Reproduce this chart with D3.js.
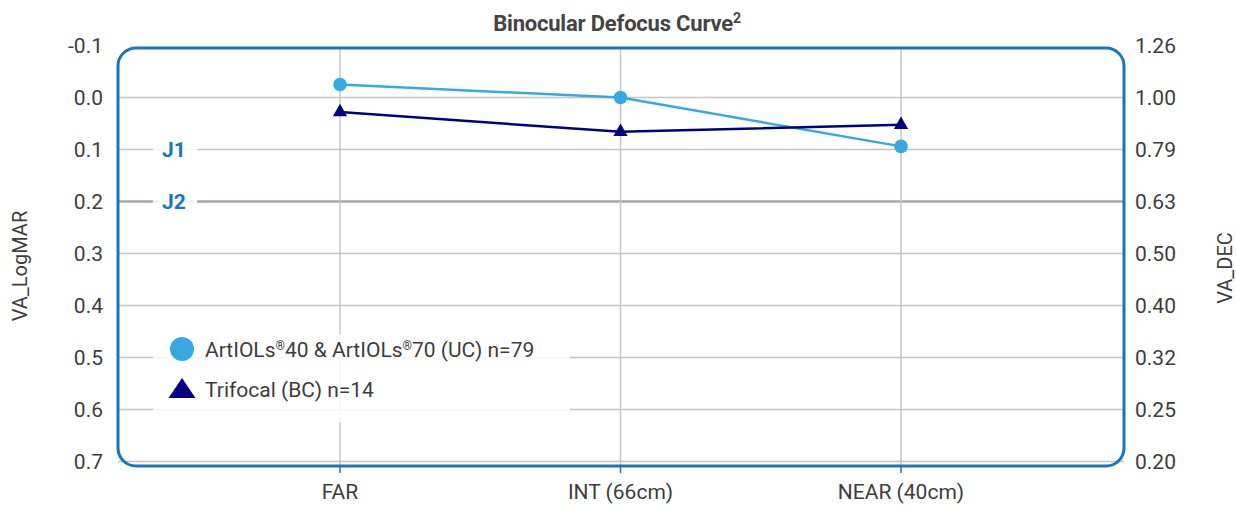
<!DOCTYPE html>
<html><head><meta charset="utf-8">
<script src="https://cdn.jsdelivr.net/npm/d3@7"></script>
<style>body{margin:0;background:#fff}svg{display:block;font-family:Roboto,"Noto Sans",sans-serif}</style>
</head><body><svg id="c" width="1236" height="505"></svg>
<script>
const categories = ["FAR", "INT (66cm)", "NEAR (40cm)"];
const artiolsValues = [-0.025, 0.0, 0.094];
const trifocalValues = [0.028, 0.066, 0.0525];
const leftTicks = [-0.1, 0.0, 0.1, 0.2, 0.3, 0.4, 0.5, 0.6, 0.7];
const leftTickLabels = ["-0.1","0.0","0.1","0.2","0.3","0.4","0.5","0.6","0.7"];
const rightTickLabels = ["1.26","1.00","0.79","0.63","0.50","0.40","0.32","0.25","0.20"];
const jLines = [{v:0.1,label:"J1"},{v:0.2,label:"J2"}];
const seriesNames = [["ArtIOLs","®","40 & ArtIOLs","®","70 (UC) n=79"], ["Trifocal (BC) n=14"]];

const svg = d3.select("#c");
const left = 118, right = 1124;
const y = d3.scaleLinear().domain([-0.1, 0.7]).range([45.5, 461.5]);
const x = d3.scalePoint().domain(categories).range([340, 901]);
const boxTop = 48, boxBottom = 466;
const blue = "#1a75bb", light = "#36a9e1", navy = "#000080", txt = "#3d3d3d";

// horizontal grid
svg.append("g").selectAll("line").data(leftTicks.slice(1)).join("line")
  .attr("x1", left).attr("x2", right).attr("y1", d=>y(d)).attr("y2", d=>y(d))
  .attr("stroke", d=> Math.abs(d-0.2)<1e-9 ? "#a9a5a3" : "#c8c4c4")
  .attr("stroke-width", d=> Math.abs(d-0.2)<1e-9 ? 2.5 : 1.5);
// vertical grid
svg.append("g").selectAll("line").data(categories).join("line")
  .attr("x1", d=>x(d)).attr("x2", d=>x(d)).attr("y1", boxTop).attr("y2", boxBottom)
  .attr("stroke", "#c8c4c4").attr("stroke-width", 1.5);
// blue ticks below
svg.append("g").selectAll("line").data(categories).join("line")
  .attr("x1", d=>x(d)).attr("x2", d=>x(d)).attr("y1", boxBottom).attr("y2", boxBottom+7)
  .attr("stroke", blue).attr("stroke-width", 1.5);

// J labels
const jg = svg.append("g").selectAll("g").data(jLines).join("g");
jg.append("rect").attr("x", 153).attr("width", 44).attr("y", d=>y(d.v)-10).attr("height", 20)
  .attr("fill", "#fff").attr("fill-opacity", 0.88);
jg.append("text").attr("x", 174).attr("y", d=>y(d.v)+7.5).attr("text-anchor","middle")
  .attr("fill", blue).attr("font-weight", "bold").attr("font-size", 21).text(d=>d.label);

// box
svg.append("rect").attr("x", left).attr("y", boxTop).attr("width", right-left).attr("height", boxBottom-boxTop)
  .attr("rx", 18).attr("ry", 18).attr("fill", "none").attr("stroke", blue).attr("stroke-width", 3);

// lines
const line = d3.line().x((d,i)=>x(categories[i])).y(d=>y(d));
svg.append("path").datum(artiolsValues).attr("d", line).attr("fill","none").attr("stroke", light).attr("stroke-width", 2.5);
svg.append("path").datum(trifocalValues).attr("d", line).attr("fill","none").attr("stroke", navy).attr("stroke-width", 2.5);
svg.append("g").selectAll("circle").data(artiolsValues).join("circle")
  .attr("cx",(d,i)=>x(categories[i])).attr("cy", d=>y(d)).attr("r", 6.8).attr("fill", light);
const tri = d3.symbol().type(d3.symbolTriangle).size(88);
svg.append("g").selectAll("path").data(trifocalValues).join("path")
  .attr("d", tri).attr("transform",(d,i)=>`translate(${x(categories[i])},${y(d)})`).attr("fill", navy);

// left axis labels
svg.append("g").selectAll("text").data(leftTicks).join("text")
  .attr("x", 103).attr("y", d=>y(d)+7.5).attr("text-anchor","end")
  .attr("font-size", 21).attr("fill", txt).text((d,i)=>leftTickLabels[i]);
// right axis labels
svg.append("g").selectAll("text").data(leftTicks).join("text")
  .attr("x", 1135).attr("y", d=>y(d)+7.5).attr("text-anchor","start")
  .attr("font-size", 21).attr("fill", txt).text((d,i)=>rightTickLabels[i]);
// x labels
svg.append("g").selectAll("text").data(categories).join("text")
  .attr("x", d=>x(d)).attr("y", 499).attr("text-anchor","middle")
  .attr("font-size", 21).attr("fill", txt).text(d=>d);

// axis titles
svg.append("text").attr("transform","translate(27,266) rotate(-90)").attr("text-anchor","middle")
  .attr("font-size", 20).attr("fill", txt).text("VA_LogMAR");
svg.append("text").attr("transform","translate(1232,268) rotate(-90)").attr("text-anchor","middle")
  .attr("font-size", 20).attr("fill", txt).text("VA_DEC");

// title
const t = svg.append("text").attr("x", 617).attr("y", 31).attr("text-anchor","middle")
  .attr("font-size", 22).attr("font-weight","bold").attr("fill", "#444").attr("letter-spacing", -0.2);
t.append("tspan").text("Binocular Defocus Curve");
t.append("tspan").attr("font-size", 14).attr("dy", -8).text("2");

// legend
const lg = svg.append("g");
lg.append("rect").attr("x",153).attr("y",334).attr("width",417).attr("height",88).attr("fill","#fff").attr("fill-opacity",0.85);
lg.append("circle").attr("cx",182).attr("cy",349).attr("r",12).attr("fill",light);
lg.append("path").attr("d","M182,378 L195.5,398 L168.5,398 Z").attr("fill",navy);
const lt = lg.selectAll("text").data(seriesNames).join("text")
  .attr("x",205).attr("y",(d,i)=>357+i*40).attr("font-size",21).attr("fill",txt);
lt.selectAll("tspan").data(d=>d).join("tspan")
  .attr("font-size", d=> d==="®" ? 12 : 21)
  .attr("dy", (d,i,n)=> d==="®" ? -7 : (i>0 && n[i-1].__data__==="®" ? 7 : 0))
  .text(d=>d);
</script></body></html>
